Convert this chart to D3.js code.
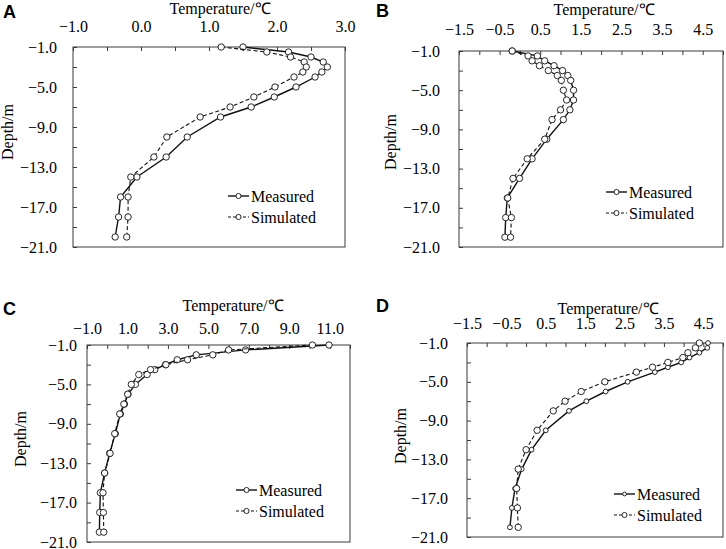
<!DOCTYPE html>
<html>
<head>
<meta charset="utf-8">
<script src="https://cdn.jsdelivr.net/npm/d3@7"></script>
<style>
body { margin: 0; background: #fff; }
</style>
</head>
<body>
<script>
// depths of the sensors (m), same for every panel
var depths = [-1, -1.5, -2, -2.5, -3, -3.5, -4, -5, -6, -7, -8, -10, -12, -14, -16, -18, -20];

var measuredA  = [1.50, 2.17, 2.50, 2.68, 2.74, 2.66, 2.56, 2.28, 1.96, 1.62, 1.17, 0.68, 0.37, -0.06, -0.30, -0.33, -0.38];
var simulatedA = [1.18, 1.85, 2.20, 2.40, 2.43, 2.38, 2.25, 1.97, 1.66, 1.31, 0.87, 0.38, 0.19, -0.15, -0.19, -0.19, -0.21];

var measuredB  = [-0.19, 0.43, 0.61, 0.84, 1.05, 1.18, 1.25, 1.32, 1.32, 1.23, 1.07, 0.66, 0.30, -0.01, -0.31, -0.35, -0.37];
var simulatedB = [-0.19, 0.20, 0.30, 0.48, 0.70, 0.92, 1.02, 1.07, 1.15, 1.00, 0.79, 0.61, 0.18, -0.17, -0.30, -0.21, -0.23];

var measuredC  = [10.96, 6.84, 4.40, 3.46, 2.88, 2.35, 1.97, 1.39, 1.03, 0.85, 0.65, 0.40, 0.12, -0.13, -0.34, -0.37, -0.39];
var simulatedC = [10.14, 6.00, 5.22, 3.97, 2.90, 2.14, 1.56, 1.19, 1.01, 0.82, 0.62, 0.37, 0.14, -0.13, -0.21, -0.19, -0.17];

var measuredD  = [4.62, 4.60, 4.40, 4.15, 3.94, 3.60, 3.27, 2.58, 2.02, 1.53, 1.09, 0.50, 0.14, -0.11, -0.28, -0.36, -0.41];
var simulatedD = [4.40, 4.30, 4.11, 3.98, 3.60, 3.21, 2.80, 2.00, 1.40, 0.99, 0.69, 0.28, 0.00, -0.20, -0.24, -0.22, -0.20];

var xLabelsA = [-1.0, 0.0, 1.0, 2.0, 3.0];
var xLabelsB = [-1.5, -0.5, 0.5, 1.5, 2.5, 3.5, 4.5];
var xLabelsC = [-1.0, 1.0, 3.0, 5.0, 7.0, 9.0, 11.0];
var xLabelsD = [-1.5, -0.5, 0.5, 1.5, 2.5, 3.5, 4.5];
var yLabels  = [-1.0, -5.0, -9.0, -13.0, -17.0, -21.0];
var seriesNames = ["Measured", "Simulated"];

var w = 726,
    h = 549;

var serif = "'Liberation Serif', 'Times New Roman', serif";

var panels = [
    { letter: "A", measured: measuredA, simulated: simulatedA, xLabels: xLabelsA, xMin: -1, xMax: 3, xStep: 0.5,
      left: 73, right: 345, top: 47, bottom: 247, xPad: 15, yPad: 16,
      titleX: 220, titleY: 14, depthX: 13, depthY: 132, letterX: 3, letterY: 18,
      legX: 228, legY: 196, mr: 3.2 },
    { letter: "B", measured: measuredB, simulated: simulatedB, xLabels: xLabelsB, xMin: -1.5, xMax: 5, xStep: 0.5,
      left: 459, right: 723, top: 51, bottom: 247, xPad: 16, yPad: 19,
      titleX: 604, titleY: 15, depthX: 396, depthY: 142, letterX: 376, letterY: 17,
      legX: 606, legY: 192, mr: 3.2 },
    { letter: "C", measured: measuredC, simulated: simulatedC, xLabels: xLabelsC, xMin: -1, xMax: 12, xStep: 1,
      left: 87, right: 350, top: 345, bottom: 542, xPad: 11, yPad: 10,
      titleX: 233, titleY: 311, depthX: 26, depthY: 439, letterX: 3, letterY: 315,
      legX: 236, legY: 490, mr: 3.2 },
    { letter: "D", measured: measuredD, simulated: simulatedD, xLabels: xLabelsD, xMin: -1.5, xMax: 5, xStep: 0.5,
      left: 467, right: 723, top: 343, bottom: 537, xPad: 14, yPad: 19,
      titleX: 608, titleY: 314, depthX: 406, depthY: 436, letterX: 376, letterY: 312,
      legX: 614, legY: 494, mr: 2.4 }
];

var svg = d3.select("body").append("svg")
    .attr("width", w)
    .attr("height", h);

var fmt = d3.format(".1f");

function drawPanel(p) {
    var g = svg.append("g");

    var x = d3.scaleLinear().domain([p.xMin, p.xMax]).range([p.left, p.right]);
    var y = d3.scaleLinear().domain([-1, -21]).range([p.top, p.bottom]);

    // plot box
    g.append("rect")
        .attr("x", p.left).attr("y", p.top)
        .attr("width", p.right - p.left).attr("height", p.bottom - p.top)
        .attr("fill", "none").attr("stroke", "#3a3a3a").attr("stroke-width", 1);

    // inner tick marks, top and left
    var xt = d3.range(p.xMin, p.xMax + 1e-9, p.xStep);
    g.append("g")
        .attr("transform", "translate(0," + p.top + ")")
        .call(d3.axisTop(x).tickValues(xt).tickSize(-4).tickFormat(""))
        .call(function(s) { s.select(".domain").remove(); s.selectAll("line").attr("stroke", "#3a3a3a"); });

    g.append("g")
        .attr("transform", "translate(" + p.left + ",0)")
        .call(d3.axisLeft(y).tickValues(d3.range(-1, -21.5, -2)).tickSize(-4).tickFormat(""))
        .call(function(s) { s.select(".domain").remove(); s.selectAll("line").attr("stroke", "#3a3a3a"); });

    // tick labels
    g.append("g")
        .attr("transform", "translate(0," + p.top + ")")
        .call(d3.axisTop(x).tickValues(p.xLabels).tickSize(0).tickPadding(p.xPad).tickFormat(fmt))
        .call(function(s) {
            s.select(".domain").remove();
            s.selectAll("text").style("font-family", serif).style("font-size", "16px").attr("fill", "#000");
        });

    g.append("g")
        .attr("transform", "translate(" + p.left + ",0)")
        .call(d3.axisLeft(y).tickValues(yLabels).tickSize(0).tickPadding(p.yPad).tickFormat(fmt))
        .call(function(s) {
            s.select(".domain").remove();
            s.selectAll("text").style("font-family", serif).style("font-size", "16px").attr("fill", "#000");
        });

    // titles
    g.append("text")
        .attr("x", p.titleX).attr("y", p.titleY)
        .attr("text-anchor", "middle")
        .style("font-family", serif).style("font-size", "16px")
        .text("Temperature/℃");

    g.append("text")
        .attr("transform", "translate(" + p.depthX + "," + p.depthY + ")rotate(-90)")
        .attr("text-anchor", "middle")
        .style("font-family", serif).style("font-size", "16px")
        .text("Depth/m");

    g.append("text")
        .attr("x", p.letterX).attr("y", p.letterY)
        .style("font-family", "'Liberation Sans', Arial, sans-serif")
        .style("font-weight", "bold").style("font-size", "18px")
        .text(p.letter);

    var line = d3.line()
        .x(function(d) { return x(d[0]); })
        .y(function(d) { return y(d[1]); });

    var series = [
        { name: seriesNames[0], values: p.measured, dash: null, width: 1.4, r: p.mr },
        { name: seriesNames[1], values: p.simulated, dash: "4,2.5", width: 1.1, r: 3.2 }
    ];

    series.forEach(function(s, i) {
        var pts = s.values.map(function(v, k) { return [v, depths[k]]; });

        g.append("path")
            .datum(pts)
            .attr("d", line)
            .attr("fill", "none")
            .attr("stroke", "#111")
            .attr("stroke-width", s.width)
            .attr("stroke-dasharray", s.dash);

        g.selectAll(".m" + i)
            .data(pts)
            .enter().append("circle")
            .attr("class", "m" + i)
            .attr("cx", function(d) { return x(d[0]); })
            .attr("cy", function(d) { return y(d[1]); })
            .attr("r", s.r)
            .attr("fill", "#fff")
            .attr("stroke", "#111")
            .attr("stroke-width", 0.9);

        // legend
        var ly = p.legY + i * 21;
        g.append("line")
            .attr("x1", p.legX).attr("x2", p.legX + 21)
            .attr("y1", ly).attr("y2", ly)
            .attr("stroke", "#111").attr("stroke-width", s.width)
            .attr("stroke-dasharray", s.dash ? "3,2" : null);
        g.append("circle")
            .attr("cx", p.legX + 10.5).attr("cy", ly).attr("r", s.r * 0.8)
            .attr("fill", "#fff").attr("stroke", "#111").attr("stroke-width", 0.9);
        g.append("text")
            .attr("x", p.legX + 23).attr("y", ly + 5.5)
            .style("font-family", serif).style("font-size", "16px")
            .text(s.name);
    });
}

panels.forEach(drawPanel);
</script>
</body>
</html>
